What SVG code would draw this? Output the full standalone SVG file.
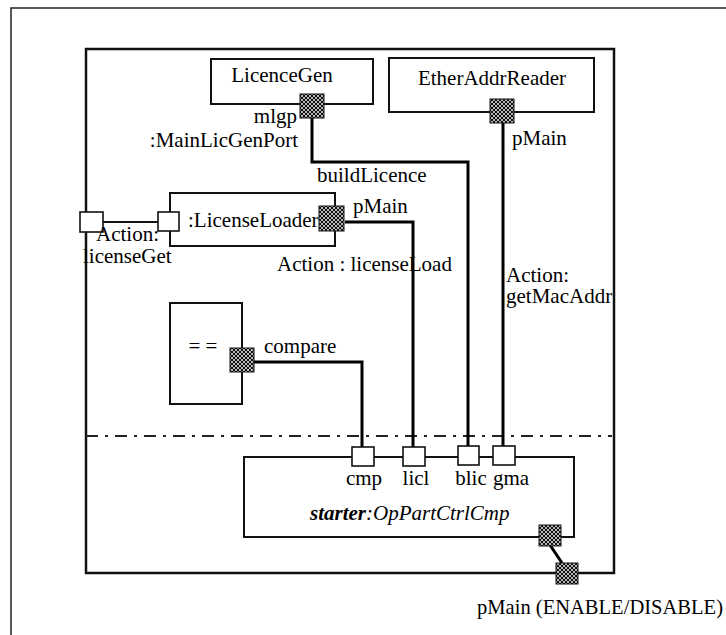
<svg xmlns="http://www.w3.org/2000/svg" width="726" height="635" viewBox="0 0 726 635">
<style>
text{font-family:'Liberation Serif','Times New Roman',Tinos,'DejaVu Serif',serif;font-size:21px;fill:#000}
.box{fill:#fff;stroke:#111;stroke-width:2}
.frame{fill:none;stroke:#111;stroke-width:2.5}
.wport{fill:#fff;stroke:#111;stroke-width:1.6}
.hport{fill:url(#hatch);stroke:#111;stroke-width:1}
.conn{fill:none;stroke:#000;stroke-width:3}
.thin{fill:none;stroke:#111;stroke-width:2}
.mid{text-anchor:middle}
.end{text-anchor:end}
</style>
<defs>
<pattern id="hatch" width="4" height="4" patternUnits="userSpaceOnUse">
<rect width="4" height="4" fill="#111"/>
<path d="M0,2 L2,0 L4,2 L2,4Z" fill="none" stroke="#fff" stroke-width="0.7"/>
</pattern>
</defs>
<rect width="726" height="635" fill="#fff"/>
<path d="M11,640 V8 H730" fill="none" stroke="#222" stroke-width="1.5"/>
<g id="frame">
<rect class="frame" x="86" y="49" width="528" height="524"/>
<line x1="86" y1="436" x2="612" y2="436" stroke="#222" stroke-width="2" stroke-dasharray="12,7,3,7"/>
</g>
<g id="connectors">
<path class="conn" d="M312,118 V162 H468 V447"/>
<path class="conn" d="M503,123 V447"/>
<path class="conn" d="M345,222 H413 V447"/>
<path class="conn" d="M254,362 H362 V447"/>
<path class="conn" d="M550,545 L562,563"/>
<path class="thin" d="M103,222 H158"/>
</g>
<g id="licenceGen">
<rect class="box" x="211" y="59" width="162" height="45"/>
<text x="282" y="82" class="mid">LicenceGen</text>
<rect class="hport" x="300" y="94" width="24" height="24"/>
<text x="297" y="123" class="end">mlgp</text>
<text x="298" y="147" class="end">:MainLicGenPort</text>
<text x="317" y="182">buildLicence</text>
</g>
<g id="etherAddrReader">
<rect class="box" x="389" y="58" width="205" height="54"/>
<text x="492" y="85" class="mid">EtherAddrReader</text>
<rect class="hport" x="490" y="99" width="24" height="24"/>
<text x="512" y="145">pMain</text>
<text x="506" y="282">Action:</text>
<text x="506" y="303">getMacAddr</text>
</g>
<g id="licenseLoader">
<rect class="box" x="170" y="193" width="165" height="53"/>
<rect class="wport" x="158" y="212" width="21" height="19"/>
<text x="188" y="227">:LicenseLoader</text>
<rect class="hport" x="319" y="206" width="25" height="25"/>
<text x="353" y="213">pMain</text>
<text x="277" y="271">Action : licenseLoad</text>
</g>
<g id="licenseGetPort">
<rect class="wport" x="80" y="212" width="23" height="20"/>
<text x="96" y="241">Action:</text>
<text x="83" y="263">licenseGet</text>
</g>
<g id="compare">
<rect class="box" x="170" y="303" width="72" height="101"/>
<text x="203" y="353" class="mid">= =</text>
<rect class="hport" x="230" y="348" width="24" height="24"/>
<text x="264" y="353">compare</text>
</g>
<g id="starter">
<rect class="box" x="244" y="457" width="330" height="80"/>
<rect class="wport" x="352" y="447" width="22" height="19"/>
<rect class="wport" x="403" y="447" width="22" height="19"/>
<rect class="wport" x="458" y="446" width="21" height="19"/>
<rect class="wport" x="493" y="446" width="22" height="19"/>
<text x="364" y="485" class="mid">cmp</text>
<text x="416" y="485" class="mid">licl</text>
<text x="471" y="485" class="mid">blic</text>
<text x="511" y="485" class="mid">gma</text>
<text x="310" y="520" font-style="italic"><tspan font-weight="bold">starter</tspan>:OpPartCtrlCmp</text>
<rect class="hport" x="539" y="525" width="22" height="21"/>
</g>
<g id="pMainOuter">
<rect class="hport" x="556" y="563" width="22" height="21"/>
<text x="477" y="614" textLength="246" lengthAdjust="spacingAndGlyphs">pMain (ENABLE/DISABLE)</text>
</g>
</svg>
